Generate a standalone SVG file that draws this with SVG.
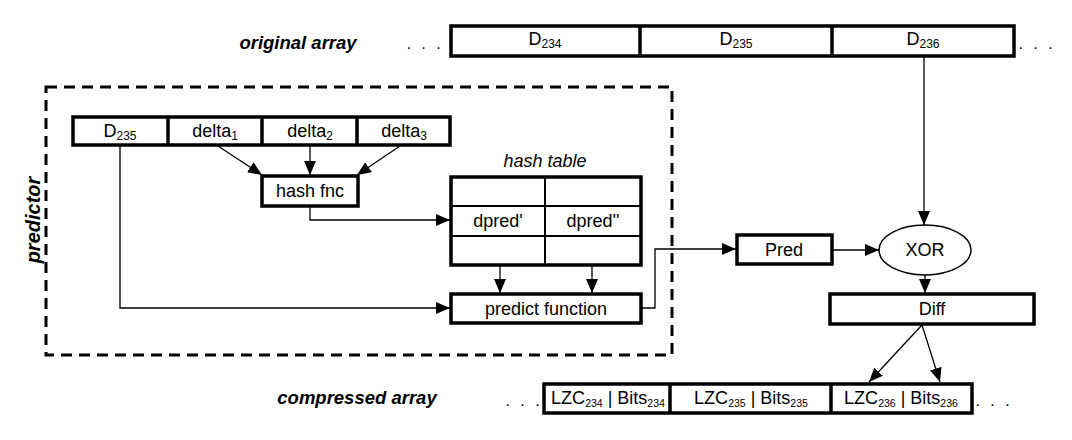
<svg xmlns="http://www.w3.org/2000/svg" width="1072" height="440" viewBox="0 0 1072 440">
<defs>
<marker id="ah" markerUnits="userSpaceOnUse" markerWidth="14" markerHeight="12" refX="14" refY="6" orient="auto"><path d="M0,0 L14,6 L0,12 z" fill="#000"/></marker>
<style>
text{font-family:"Liberation Sans",Arial,sans-serif;font-size:18px;fill:#000;text-anchor:middle}
.t{font-weight:bold;font-style:italic;font-size:18.5px}
.it{font-style:italic}
.box{fill:#fff;stroke:#000;stroke-width:3.5}
.div{stroke:#000;stroke-width:3.5;fill:none}
.thin{stroke:#000;stroke-width:2;fill:none}
.arr{stroke:#000;stroke-width:1.3;fill:none;marker-end:url(#ah)}
.sub{font-size:12px}
.csub{font-size:10.5px}
.dots{letter-spacing:3px;font-size:16px}
</style>
</defs>
<rect width="1072" height="440" fill="#fff"/>

<g id="labels">
<text class="t" x="298" y="49">original array</text>
<text class="t" x="357" y="404">compressed array</text>
<text class="t" transform="translate(40,220) rotate(-90)" style="font-size:20px">predictor</text>
</g>

<g id="predictor-frame">
<rect x="46" y="87" width="626" height="268" fill="none" stroke="#000" stroke-width="3" stroke-dasharray="11,7"/>
</g>

<g id="original-array">
<text class="dots" x="425" y="49">. . .</text>
<rect class="box" x="451" y="26" width="563" height="30"/>
<line class="div" x1="640" y1="26" x2="640" y2="56"/>
<line class="div" x1="832" y1="26" x2="832" y2="56"/>
<text x="545" y="45">D<tspan class="sub" dy="3">234</tspan></text>
<text x="736" y="45">D<tspan class="sub" dy="3">235</tspan></text>
<text x="923" y="45">D<tspan class="sub" dy="3">236</tspan></text>
<text class="dots" x="1037" y="49">. . .</text>
</g>

<g id="input-row">
<rect class="box" x="73" y="117" width="377" height="28"/>
<line class="div" x1="168" y1="117" x2="168" y2="145"/>
<line class="div" x1="262" y1="117" x2="262" y2="145"/>
<line class="div" x1="357" y1="117" x2="357" y2="145"/>
<text x="120" y="137">D<tspan class="sub" dy="3">235</tspan></text>
<text x="215" y="137">delta<tspan class="sub" dy="3">1</tspan></text>
<text x="310" y="137">delta<tspan class="sub" dy="3">2</tspan></text>
<text x="404" y="137">delta<tspan class="sub" dy="3">3</tspan></text>
</g>

<g id="hash-fnc">
<rect class="box" x="262" y="176" width="96" height="30"/>
<text x="310" y="197">hash fnc</text>
</g>

<g id="hash-table">
<text class="it" x="545" y="167">hash table</text>
<rect class="box" x="451" y="177" width="190" height="88"/>
<line class="thin" x1="451" y1="206" x2="641" y2="206"/>
<line class="thin" x1="451" y1="236" x2="641" y2="236"/>
<line class="thin" x1="545" y1="177" x2="545" y2="265"/>
<text x="498" y="227">dpred'</text>
<text x="593" y="227">dpred''</text>
</g>

<g id="predict-function">
<rect class="box" x="451" y="294" width="190" height="29"/>
<text x="546" y="315">predict function</text>
</g>

<g id="pred">
<rect class="box" x="737" y="235" width="95" height="29"/>
<text x="784" y="256">Pred</text>
</g>

<g id="xor">
<ellipse cx="925" cy="250" rx="46" ry="25" fill="#fff" stroke="#000" stroke-width="1.5"/>
<text x="925" y="256">XOR</text>
</g>

<g id="diff">
<rect class="box" x="830" y="294" width="204" height="30"/>
<text x="932" y="315">Diff</text>
</g>

<g id="compressed-array">
<text class="dots" x="524" y="406">. . .</text>
<rect class="box" x="544" y="384" width="428" height="29"/>
<line class="div" x1="670" y1="384" x2="670" y2="413"/>
<line class="div" x1="831" y1="384" x2="831" y2="413"/>
<text x="608" y="404" font-size="15">LZC<tspan class="csub" dy="3">234</tspan><tspan dy="-3"> | Bits</tspan><tspan class="csub" dy="3">234</tspan></text>
<text x="751" y="404" font-size="15">LZC<tspan class="csub" dy="3">235</tspan><tspan dy="-3"> | Bits</tspan><tspan class="csub" dy="3">235</tspan></text>
<text x="901" y="404" font-size="15">LZC<tspan class="csub" dy="3">236</tspan><tspan dy="-3"> | Bits</tspan><tspan class="csub" dy="3">236</tspan></text>
<text class="dots" x="994" y="406">. . .</text>
</g>

<g id="connectors">
<path class="arr" d="M924,56 L924,225"/>
<path class="arr" d="M218,146 L262,175"/>
<path class="arr" d="M310,146 L310,175"/>
<path class="arr" d="M400,146 L357,175"/>
<path class="arr" d="M310,206 L310,220 L450,220"/>
<path class="arr" d="M120,145 L120,308 L450,308"/>
<path class="arr" d="M500,265 L500,293"/>
<path class="arr" d="M592,265 L592,293"/>
<path class="arr" d="M641,308 L655,308 L655,249 L736,249"/>
<path class="arr" d="M832,250 L879,250"/>
<path class="arr" d="M925,275 L925,293"/>
<path class="arr" d="M922,325 L869,382"/>
<path class="arr" d="M922,325 L940,382"/>
</g>
</svg>
